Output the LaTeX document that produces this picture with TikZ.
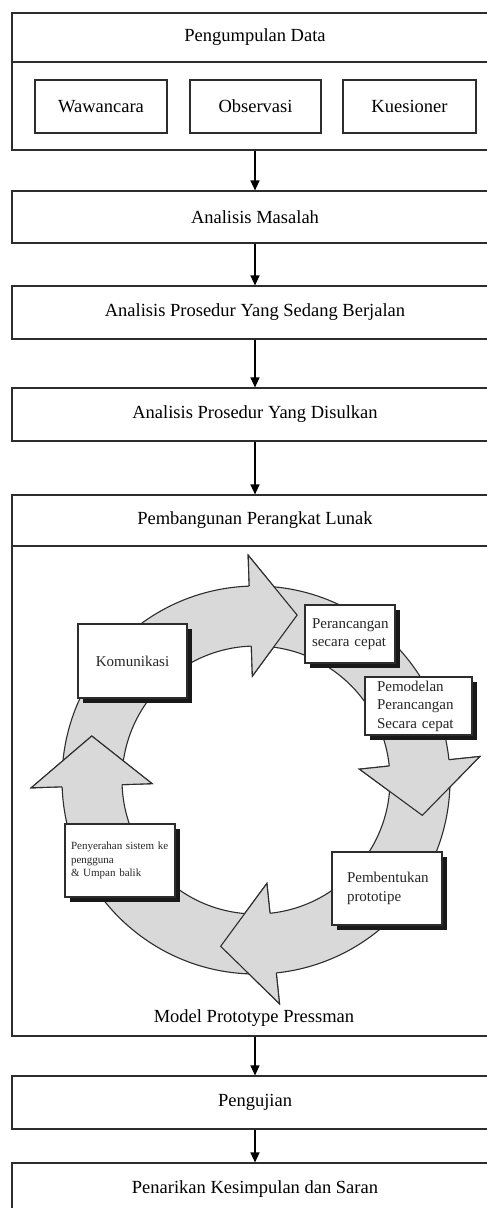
\documentclass[tikz,border=0pt]{standalone}
\usepackage{fontspec}
\setmainfont{Liberation Serif}
\usetikzlibrary{arrows.meta,shadows}
\definecolor{ringgray}{RGB}{217,217,217}
\definecolor{linegray}{RGB}{45,45,45}
\newcommand\cycarrow[3]{%
  \draw[ringline,fill=ringgray] (#1:194) arc[start angle=#1, end angle=#2, radius=194]
    -- (#2:225) -- (#3:170) -- (#2:104) -- (#2:134)
    arc[start angle=#2, end angle=#1, radius=134] -- cycle;}
\newcommand\cychead[3]{%
  \fill[ringgray] (#2:225) -- (#3:170) -- (#2:104) -- cycle;
  \draw[ringline] (#2:194) -- (#2:225) -- (#3:170) -- (#2:104) -- (#2:134);}
\begin{document}
\begin{tikzpicture}[x=1pt,y=-1pt,
  mainbox/.style={draw=linegray, line width=1.1pt, rectangle, minimum width=486pt, inner sep=0pt,
    font=\fontsize{18.5}{22}\selectfont},
  subbox/.style={draw=linegray, line width=1.1pt, rectangle, minimum height=53pt, inner sep=0pt,
    font=\fontsize{18.5}{22}\selectfont},
  flow/.style={-{Triangle[width=9pt,length=10pt]}, line width=1.1pt, draw=black},
  ringline/.style={draw=linegray, line width=1.1pt, line join=miter},
  cycbox/.style={draw=linegray, fill=white, line width=1.2pt, rectangle, inner ysep=0pt,
    text=black!85, align=left,
    drop shadow={shadow xshift=4.5pt, shadow yshift=-4.5pt, fill=black!90, opacity=1}},
  capt/.style={font=\fontsize{18.5}{22}\selectfont, inner sep=0pt}]
\useasboundingbox (0,0) rectangle (487,1208);
\clip (0,0) rectangle (487,1208);
\fill[white] (0,0) rectangle (487,1208);

% main flow
\node[mainbox, minimum height=49pt] (b1t) at (255,37.5) {Pengumpulan Data};
\node[mainbox, minimum height=88pt] (b1b) at (255,106) {};
\node[subbox, minimum width=132pt] (s1) at (101,106.5) {Wawancara};
\node[subbox, minimum width=131pt] (s2) at (255.5,106.5) {Observasi};
\node[subbox, minimum width=133pt] (s3) at (409.5,106.5) {Kuesioner};
\node[mainbox, minimum height=52pt] (b2) at (255,217) {Analisis Masalah};
\node[mainbox, minimum height=53pt] (b3) at (255,312.5) {Analisis Prosedur Yang Sedang Berjalan};
\node[mainbox, minimum height=53pt] (b4) at (255,414.5) {Analisis Prosedur Yang Disulkan};
\node[mainbox, minimum height=51pt] (b5t) at (255,520.5) {Pembangunan Perangkat Lunak};
\node[mainbox, minimum height=490pt] (b5b) at (255,791) {};
\node[capt] (cap) at (254,1018) {Model Prototype Pressman};
\node[mainbox, minimum height=53pt] (b6) at (255,1102.5) {Pengujian};
\node[mainbox, minimum height=53pt] (b7) at (255,1189.5) {Penarikan Kesimpulan dan Saran};

\draw[flow] (b1b.south -| 255,0) -- (b2.north -| 255,0);
\draw[flow] (b2.south -| 255,0) -- (b3.north -| 255,0);
\draw[flow] (b3.south -| 255,0) -- (b4.north -| 255,0);
\draw[flow] (b4.south -| 255,0) -- (b5t.north -| 255,0);
\draw[flow] (b5b.south -| 255,0) -- (b6.north -| 255,0);
\draw[flow] (b6.south -| 255,0) -- (b7.north -| 255,0);

% prototype cycle
\begin{scope}[shift={(256,780)}]
  \cycarrow{182}{268}{284}
  \cycarrow{272}{354}{372}
  \cycarrow{358}{444}{462}
  \cycarrow{448}{538}{555}
  \cychead{182}{268}{284}
  \cychead{272}{354}{372}
  \cychead{358}{444}{462}
  \cychead{448}{538}{555}
\end{scope}

\node[cycbox, minimum width=109pt, minimum height=74pt, inner xsep=0pt,
  font=\fontsize{15}{18.5}\selectfont, align=center] (kom) at (132.5,661) {Komunikasi};
\node[cycbox, minimum width=90pt, minimum height=58pt, inner xsep=7pt, text width=76pt,
  font=\fontsize{15}{18.5}\selectfont] (cep) at (350,634) {Perancangan\\secara cepat};
\node[cycbox, minimum width=107pt, minimum height=58pt, inner xsep=12pt, text width=83pt,
  font=\fontsize{15}{18.5}\selectfont] (mod) at (418.5,706) {Pemodelan\\Perancangan\\Secara cepat};
\node[cycbox, minimum width=110pt, minimum height=73pt, inner xsep=15pt, text width=80pt,
  font=\fontsize{15}{19}\selectfont] (bnt) at (387,888.5) {Pembentukan\\prototipe};
\node[cycbox, minimum width=110pt, minimum height=73pt, inner xsep=6pt, text width=98pt,
  font=\fontsize{11}{13.5}\selectfont] (pen) at (120,860.5) {Penyerahan sistem ke\\pengguna\\\& Umpan balik};
\end{tikzpicture}
\end{document}
